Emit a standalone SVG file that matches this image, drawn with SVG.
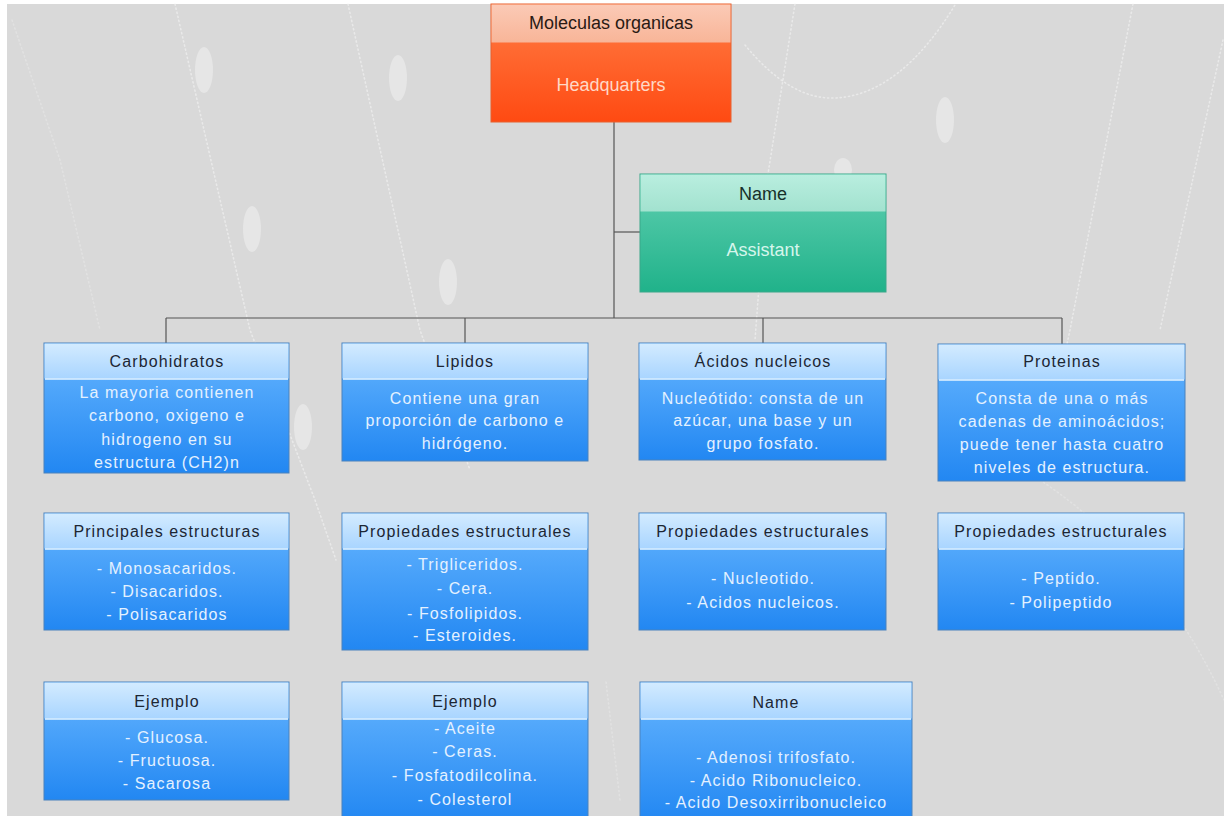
<svg xmlns="http://www.w3.org/2000/svg" width="1224" height="816" viewBox="0 0 1224 816">
<defs>
<linearGradient id="hqHead" x1="0" y1="0" x2="0" y2="1"><stop offset="0" stop-color="#fbcab6"/><stop offset="1" stop-color="#f8b598"/></linearGradient>
<linearGradient id="hqBody" x1="0" y1="0" x2="0" y2="1"><stop offset="0" stop-color="#ff7d45"/><stop offset="1" stop-color="#ff4a12"/></linearGradient>
<linearGradient id="asHead" x1="0" y1="0" x2="0" y2="1"><stop offset="0" stop-color="#b9eedf"/><stop offset="1" stop-color="#a2e2cf"/></linearGradient>
<linearGradient id="asBody" x1="0" y1="0" x2="0" y2="1"><stop offset="0" stop-color="#62d0b2"/><stop offset="1" stop-color="#20b28a"/></linearGradient>
<linearGradient id="blHead" x1="0" y1="0" x2="0" y2="1"><stop offset="0" stop-color="#d3ebff"/><stop offset="1" stop-color="#a9d5ff"/></linearGradient>
<linearGradient id="blBody" x1="0" y1="0" x2="0" y2="1"><stop offset="0" stop-color="#67b6ff"/><stop offset="1" stop-color="#2287f2"/></linearGradient>
</defs>
<style>
text{font-family:"Liberation Sans",Arial,sans-serif;text-anchor:middle}
.hd{font-size:16px;letter-spacing:1.1px;fill:#1c2633}
.bd{font-size:16px;letter-spacing:1.1px;fill:#e4f1ff}
.bigH{font-size:18px;fill:#2a1a14}
.bigB{font-size:18px;fill:#ffd8c6}
.asB{font-size:18px;fill:#d6f6ec}
.asH{font-size:18px;fill:#17302a}
.blb{fill:url(#blBody);stroke:#4a82bd;stroke-width:1}
.blh{fill:url(#blHead)}
.bls{stroke:#e6f4ff;stroke-width:1.5}
.con{stroke:#555;stroke-width:1.2;fill:none}
.dot{fill:none;stroke:#f4f4f4;stroke-width:1.6;stroke-dasharray:1.2 3;stroke-linecap:round;opacity:.6}
.faint{opacity:.3}
.ell{fill:#e6e6e6}
</style>
<rect width="1224" height="816" fill="#ffffff"/>
<rect x="7" y="4" width="1217" height="812" fill="#d9d9d9"/>
<g id="background">
<path class="dot faint" d="M12 20 L60 160 L100 330"/>
<path class="dot" d="M175 4 L250 330 L315 500 L336 560"/>
<path class="dot" d="M348 4 L420 330 L470 470"/>
<path class="dot" d="M745 45 Q790 100 835 98 Q900 95 955 5"/>
<path class="dot" d="M795 4 L767 180 L755 340"/>
<path class="dot" d="M1133 4 L1070 330 L1040 470"/>
<path class="dot" d="M1223 40 L1160 330"/>
<path class="dot faint" d="M1040 480 Q1160 560 1224 700"/>
<path class="dot faint" d="M606 682 L620 800"/>
<ellipse class="ell" cx="204" cy="70" rx="9" ry="23"/>
<ellipse class="ell" cx="252" cy="229" rx="9" ry="23"/>
<ellipse class="ell" cx="398" cy="78" rx="9" ry="23"/>
<ellipse class="ell" cx="448" cy="282" rx="9" ry="23"/>
<ellipse class="ell" cx="945" cy="120" rx="9" ry="23"/>
<ellipse class="ell" cx="843" cy="170" rx="9" ry="12"/>
<ellipse class="ell" cx="303" cy="427" rx="9" ry="23"/>
</g>
<g id="connectors">
<path class="con" d="M614 122 V318"/>
<path class="con" d="M614 232 H640"/>
<path class="con" d="M166 318 H1062"/>
<path class="con" d="M166 318 V343"/>
<path class="con" d="M465 318 V343"/>
<path class="con" d="M763 318 V343"/>
<path class="con" d="M1062 318 V344"/>
</g>
<g id="hq">
<rect x="491" y="4" width="240" height="118" fill="url(#hqBody)" stroke="#e8602e"/>
<rect x="491.5" y="4.5" width="239" height="38" fill="url(#hqHead)"/>
<text class="bigH" x="611" y="29">Moleculas organicas</text>
<text class="bigB" x="611" y="91">Headquarters</text>
</g>
<g id="assistant">
<rect x="640" y="174" width="246" height="118" fill="url(#asBody)" stroke="#3aa88a"/>
<rect x="640.5" y="174.5" width="245" height="37" fill="url(#asHead)"/>
<text class="asH" x="763" y="200">Name</text>
<text class="asB" x="763" y="256">Assistant</text>
</g>
<g id="carbohidratos">
<rect class="blb" x="44" y="343" width="245" height="130"/>
<rect class="blh" x="44.5" y="343.5" width="244" height="35"/>
<line class="bls" x1="45" y1="379" x2="288" y2="379"/>
<text class="hd" x="167" y="367">Carbohidratos</text>
<text class="bd" x="167" y="398">La mayoria contienen</text>
<text class="bd" x="167" y="421">carbono, oxigeno e</text>
<text class="bd" x="167" y="445">hidrogeno en su</text>
<text class="bd" x="167" y="468">estructura (CH2)n</text>
</g>
<g id="lipidos">
<rect class="blb" x="342" y="343" width="246" height="118"/>
<rect class="blh" x="342.5" y="343.5" width="245" height="35"/>
<line class="bls" x1="343" y1="379" x2="587" y2="379"/>
<text class="hd" x="465" y="367">Lipidos</text>
<text class="bd" x="465" y="404">Contiene una gran</text>
<text class="bd" x="465" y="426">proporción de carbono e</text>
<text class="bd" x="465" y="449">hidrógeno.</text>
</g>
<g id="acidos">
<rect class="blb" x="639" y="343" width="247" height="117"/>
<rect class="blh" x="639.5" y="343.5" width="246" height="35"/>
<line class="bls" x1="640" y1="379" x2="885" y2="379"/>
<text class="hd" x="763" y="367">Ácidos nucleicos</text>
<text class="bd" x="763" y="404">Nucleótido: consta de un</text>
<text class="bd" x="763" y="426">azúcar, una base y un</text>
<text class="bd" x="763" y="449">grupo fosfato.</text>
</g>
<g id="proteinas">
<rect class="blb" x="938" y="344" width="247" height="137"/>
<rect class="blh" x="938.5" y="344.5" width="246" height="35"/>
<line class="bls" x1="939" y1="380" x2="1184" y2="380"/>
<text class="hd" x="1062" y="367">Proteinas</text>
<text class="bd" x="1062" y="404">Consta de una o más</text>
<text class="bd" x="1062" y="427">cadenas de aminoácidos;</text>
<text class="bd" x="1062" y="450">puede tener hasta cuatro</text>
<text class="bd" x="1062" y="473">niveles de estructura.</text>
</g>
<g id="carb-estructuras">
<rect class="blb" x="44" y="513" width="245" height="117"/>
<rect class="blh" x="44.5" y="513.5" width="244" height="35"/>
<line class="bls" x1="45" y1="549" x2="288" y2="549"/>
<text class="hd" x="167" y="537">Principales estructuras</text>
<text class="bd" x="167" y="574">- Monosacaridos.</text>
<text class="bd" x="167" y="597">- Disacaridos.</text>
<text class="bd" x="167" y="620">- Polisacaridos</text>
</g>
<g id="lip-propiedades">
<rect class="blb" x="342" y="513" width="246" height="137"/>
<rect class="blh" x="342.5" y="513.5" width="245" height="35"/>
<line class="bls" x1="343" y1="549" x2="587" y2="549"/>
<text class="hd" x="465" y="537">Propiedades estructurales</text>
<text class="bd" x="465" y="570">- Trigliceridos.</text>
<text class="bd" x="465" y="594">- Cera.</text>
<text class="bd" x="465" y="619">- Fosfolipidos.</text>
<text class="bd" x="465" y="641">- Esteroides.</text>
</g>
<g id="acid-propiedades">
<rect class="blb" x="639" y="513" width="247" height="117"/>
<rect class="blh" x="639.5" y="513.5" width="246" height="35"/>
<line class="bls" x1="640" y1="549" x2="885" y2="549"/>
<text class="hd" x="763" y="537">Propiedades estructurales</text>
<text class="bd" x="763" y="584">- Nucleotido.</text>
<text class="bd" x="763" y="608">- Acidos nucleicos.</text>
</g>
<g id="prot-propiedades">
<rect class="blb" x="938" y="513" width="246" height="117"/>
<rect class="blh" x="938.5" y="513.5" width="245" height="35"/>
<line class="bls" x1="939" y1="549" x2="1183" y2="549"/>
<text class="hd" x="1061" y="537">Propiedades estructurales</text>
<text class="bd" x="1061" y="584">- Peptido.</text>
<text class="bd" x="1061" y="608">- Polipeptido</text>
</g>
<g id="carb-ejemplo">
<rect class="blb" x="44" y="682" width="245" height="118"/>
<rect class="blh" x="44.5" y="682.5" width="244" height="36"/>
<line class="bls" x1="45" y1="719" x2="288" y2="719"/>
<text class="hd" x="167" y="707">Ejemplo</text>
<text class="bd" x="167" y="743">- Glucosa.</text>
<text class="bd" x="167" y="766">- Fructuosa.</text>
<text class="bd" x="167" y="789">- Sacarosa</text>
</g>
<g id="lip-ejemplo">
<rect class="blb" x="342" y="682" width="246" height="140"/>
<rect class="blh" x="342.5" y="682.5" width="245" height="36"/>
<line class="bls" x1="343" y1="719" x2="587" y2="719"/>
<text class="hd" x="465" y="707">Ejemplo</text>
<text class="bd" x="465" y="734">- Aceite</text>
<text class="bd" x="465" y="757">- Ceras.</text>
<text class="bd" x="465" y="781">- Fosfatodilcolina.</text>
<text class="bd" x="465" y="805">- Colesterol</text>
</g>
<g id="acid-name">
<rect class="blb" x="640" y="682" width="272" height="140"/>
<rect class="blh" x="640.5" y="682.5" width="271" height="36"/>
<line class="bls" x1="641" y1="719" x2="911" y2="719"/>
<text class="hd" x="776" y="708">Name</text>
<text class="bd" x="776" y="763">- Adenosi trifosfato.</text>
<text class="bd" x="776" y="786">- Acido Ribonucleico.</text>
<text class="bd" x="776" y="808">- Acido Desoxirribonucleico</text>
</g>
</svg>
